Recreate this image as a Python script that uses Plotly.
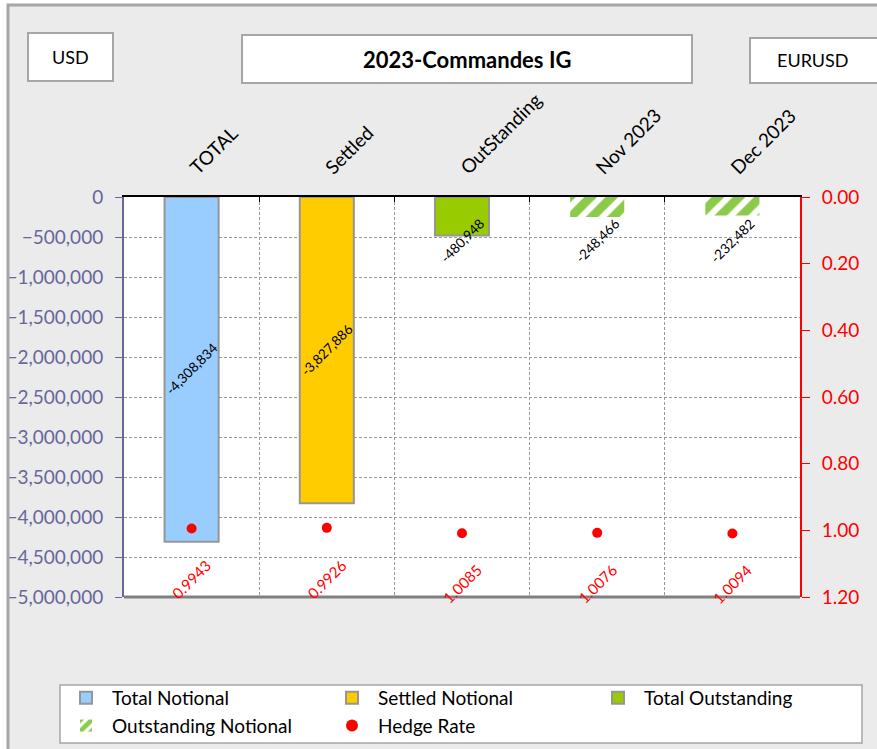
import plotly.graph_objects as go

# ---------------- data ----------------
categories = ["TOTAL", "Settled", "OutStanding", "Nov 2023", "Dec 2023"]
total_notional = [-4308834, None, None, None, None]
settled_notional = [None, -3827886, None, None, None]
total_outstanding = [None, None, -480948, None, None]
outstanding_notional = [None, None, None, -248466, -232482]
hedge_rate = [0.9943, 0.9926, 1.0085, 1.0076, 1.0094]
left_ticks = [0, -500000, -1000000, -1500000, -2000000, -2500000,
              -3000000, -3500000, -4000000, -4500000, -5000000]
right_ticks = [0.0, 0.2, 0.4, 0.6, 0.8, 1.0, 1.2]
box_left = "USD"
box_title = "2023-Commandes IG"
box_right = "EURUSD"

# ---------------- layout geometry ----------------
W, H = 877, 749
ML, MR, MT, MB = 124, 77, 197, 152
PW, PH = W - ML - MR, H - MT - MB


def px(x):
    return (x - ML) / PW


def py(y):
    return (H - MB - y) / PH


FONT = "Lato, 'Open Sans', sans-serif"
SLATE = "#67679A"
GRAYLINE = "#A6A6A6"
BAR_EDGE = "#969696"

fig = go.Figure()

fig.add_trace(go.Bar(x=categories, y=total_notional, name="Total Notional",
                     marker=dict(color="#99CCFF", line=dict(color=BAR_EDGE, width=2)),
                     width=0.4))
fig.add_trace(go.Bar(x=categories, y=settled_notional, name="Settled Notional",
                     marker=dict(color="#FFCC00", line=dict(color=BAR_EDGE, width=2)),
                     width=0.4))
fig.add_trace(go.Bar(x=categories, y=total_outstanding, name="Total Outstanding",
                     marker=dict(color="#99CC00", line=dict(color=BAR_EDGE, width=2)),
                     width=0.4))
fig.add_trace(go.Bar(x=categories, y=outstanding_notional, name="Outstanding Notional",
                     marker=dict(color="white", line=dict(width=0),
                                 pattern=dict(shape="/", fgcolor="#8CCB4A", bgcolor="white",
                                              fgopacity=1, size=15, solidity=0.6)),
                     width=0.4))
fig.add_trace(go.Scatter(x=categories, y=hedge_rate, name="Hedge Rate", yaxis="y2",
                         mode="markers", marker=dict(color="#FF0000", size=10)))

annotations = []
# bar value labels
bar_series = [total_notional, settled_notional, total_outstanding, outstanding_notional]
for series in bar_series:
    for cat, v in zip(categories, series):
        if v is None:
            continue
        ly = v / 2 if abs(v) > 1e6 else -550000
        annotations.append(dict(x=cat, y=ly, xref="x", yref="y", text=f"{v:,}",
                                showarrow=False, textangle=-45,
                                font=dict(family=FONT, size=13.5, color="black")))
# hedge rate labels
for cat, h in zip(categories, hedge_rate):
    annotations.append(dict(x=cat, y=h, xref="x", yref="y2", text=f"{h:.4f}",
                            showarrow=False, textangle=-45, yshift=-51,
                            font=dict(family=FONT, size=15, color="#FF0000")))

# header boxes
boxes = [
    (28, 33, 113, 81, box_left, False, 18),
    (242, 35, 692, 83, box_title, True, 22),
    (750, 38, 900, 83, box_right, False, 18),
]
shapes = []
# white strips outside the chart frame
shapes.append(dict(type="rect", xref="paper", yref="paper", x0=px(-20), x1=px(8),
                   y0=py(-20), y1=py(800), fillcolor="white", line=dict(width=0), layer="below"))
shapes.append(dict(type="rect", xref="paper", yref="paper", x0=px(-20), x1=px(900),
                   y0=py(-20), y1=py(5), fillcolor="white", line=dict(width=0), layer="below"))
# chart frame
shapes.append(dict(type="rect", xref="paper", yref="paper", x0=px(8), x1=px(920),
                   y0=py(5), y1=py(800), fillcolor="rgba(0,0,0,0)",
                   line=dict(color=GRAYLINE, width=3), layer="above"))
for x0, y0, x1, y1, txt, bold, fs in boxes:
    shapes.append(dict(type="rect", xref="paper", yref="paper", x0=px(x0), x1=px(x1),
                       y0=py(y0), y1=py(y1), fillcolor="white",
                       line=dict(color=GRAYLINE, width=2), layer="above"))
    cx = min((x0 + x1) / 2, 813)
    annotations.append(dict(x=px(cx), y=py((y0 + y1) / 2), xref="paper", yref="paper",
                            text=f"<b>{txt}</b>" if bold else txt, showarrow=False,
                            xanchor="center", yanchor="middle",
                            font=dict(family=FONT, size=fs, color="black")))
# legend frame
shapes.append(dict(type="rect", xref="paper", yref="paper", x0=px(60), x1=px(862),
                   y0=py(685), y1=py(743), fillcolor="white",
                   line=dict(color=GRAYLINE, width=1.5), layer="above"))
# bottom axis line
shapes.append(dict(type="line", xref="paper", yref="paper", x0=0, x1=1, y0=0, y1=0,
                   line=dict(color="#808080", width=3), layer="above"))

fig.update_layout(
    width=W, height=H,
    margin=dict(l=ML, r=MR, t=MT, b=MB, autoexpand=False),
    paper_bgcolor="#EBEBEB", plot_bgcolor="white",
    barmode="overlay",
    font=dict(family=FONT, size=18, color="black"),
    showlegend=True,
    legend=dict(orientation="h", x=px(60), y=py(679), xanchor="left", yanchor="top",
                bgcolor="rgba(0,0,0,0)", borderwidth=0, entrywidth=209,
                itemwidth=42, font=dict(family=FONT, size=19, color="black"),
                traceorder="normal", itemsizing="constant"),
    xaxis=dict(type="category", side="top", tickangle=-45, tickson="boundaries",
               ticks="inside", ticklen=5, tickcolor="black",
               showline=True, linecolor="black", linewidth=2,
               showgrid=True, gridcolor="#999999", griddash="3px,2px", gridwidth=1,
               tickfont=dict(family=FONT, size=19, color="black"),
               ticklabelstandoff=9, fixedrange=True),
    yaxis=dict(range=[-5000000, 0], tickvals=left_ticks, tickformat=",",
               showline=True, linecolor=SLATE, linewidth=2,
               ticks="outside", ticklen=7, tickcolor=SLATE,
               showgrid=True, gridcolor="#999999", griddash="3px,2px", gridwidth=1,
               zeroline=False, tickfont=dict(family=FONT, size=19, color=SLATE),
               ticklabelstandoff=8),
    yaxis2=dict(range=[1.2, 0], tickvals=right_ticks, tickformat=".2f",
                overlaying="y", side="right", showline=True, linecolor="#FF0000",
                linewidth=2, ticks="outside", ticklen=8, tickcolor="#FF0000",
                showgrid=False, zeroline=False,
                tickfont=dict(family=FONT, size=19, color="#FF0000"),
                ticklabelstandoff=8),
    annotations=annotations,
    shapes=shapes,
)

fig.write_html("out.html", config={"displayModeBar": False},
               post_script="document.body.style.margin='0';")
